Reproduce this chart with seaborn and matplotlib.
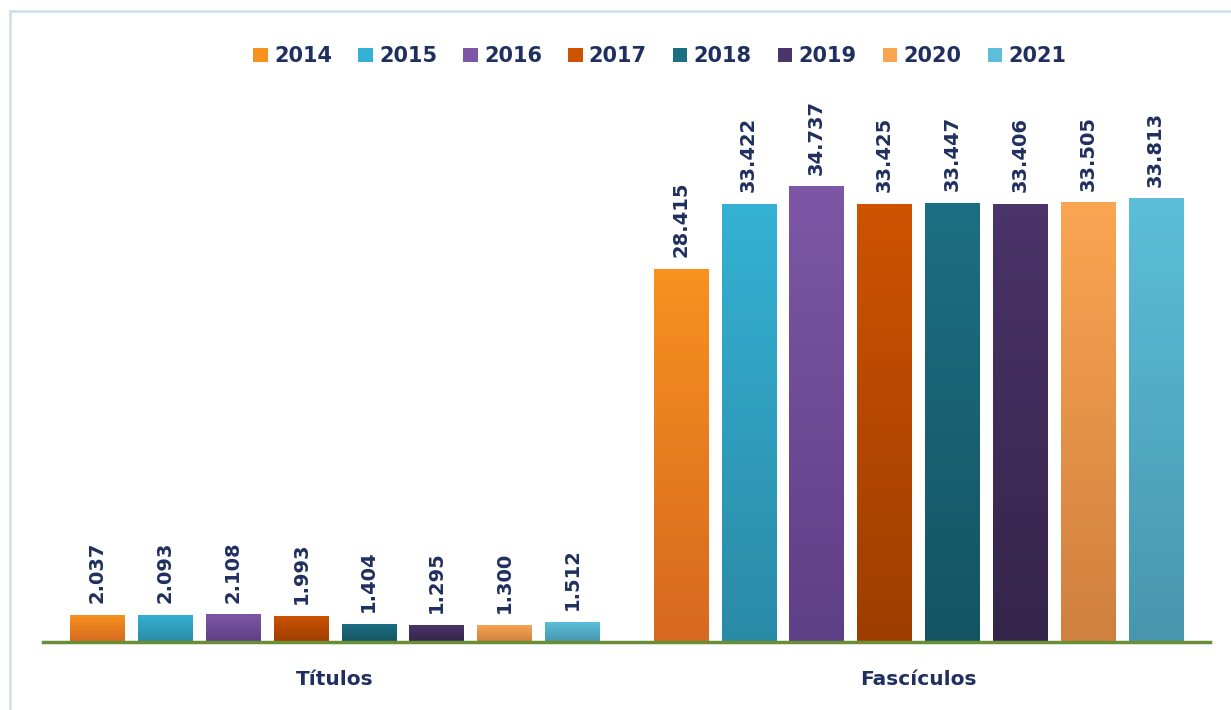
import numpy as np
import pandas as pd
import matplotlib.pyplot as plt
import matplotlib.colors as mcolors
from matplotlib.patches import Rectangle
import seaborn as sns

categories = ["Títulos", "Fascículos"]
years = ["2014", "2015", "2016", "2017", "2018", "2019", "2020", "2021"]
titulos = [2037, 2093, 2108, 1993, 1404, 1295, 1300, 1512]
fasciculos = [28415, 33422, 34737, 33425, 33447, 33406, 33505, 33813]

top_colors = ["#F7911F", "#35B1D4", "#7D57A5", "#CD5300", "#1C6F83", "#4A3468", "#FAA552", "#5CBED9"]
bottom_colors = ["#D6691F", "#2A8BA6", "#5F3F86", "#9E3D00", "#145462", "#35244A", "#D0803F", "#4896AE"]

NAVY = "#1F2F5F"


def fmt_pt(v):
    return f"{v:,}".replace(",", ".")


def build_df():
    rows = []
    for cat, vals in zip(categories, [titulos, fasciculos]):
        for year, v in zip(years, vals):
            rows.append({"categoria": cat, "ano": year, "valor": v})
    return pd.DataFrame(rows)


def main():
    df = build_df()
    sns.set_theme(style="white")
    plt.rcParams["font.family"] = ["DejaVu Sans"]

    fig = plt.figure(figsize=(12.31, 7.10), dpi=100)
    ax = fig.add_axes([43 / 1231, 68 / 710, (1210 - 43) / 1231, (642 - 95) / 710])

    sns.barplot(data=df, x="categoria", y="valor", hue="ano", order=categories,
                hue_order=years, palette=top_colors, width=0.93, gap=0.2,
                ax=ax, legend=False, errorbar=None)

    # vertical gradient on each bar, clipped to the bar shape
    for i, cont in enumerate(ax.containers):
        cmap = mcolors.LinearSegmentedColormap.from_list(
            f"g{i}", [bottom_colors[i], top_colors[i]])
        for bar, val in zip(cont, cont.datavalues):
            x0, w, h = bar.get_x(), bar.get_width(), bar.get_height()
            grad = np.linspace(0, 1, 64).reshape(-1, 1)
            im = ax.imshow(grad, extent=[x0, x0 + w, 0, h], origin="lower",
                           cmap=cmap, aspect="auto", zorder=bar.get_zorder())
            im.set_clip_path(bar)
            bar.set_edgecolor("none")
            ax.text(x0 + w / 2, h + 900, fmt_pt(int(val)), rotation=90,
                    ha="center", va="bottom", fontsize=14, fontweight="bold",
                    color=NAVY)

    ax.set_xlim(-0.5, 1.5)
    ax.set_ylim(0, 41700)

    for s in ["top", "right", "left"]:
        ax.spines[s].set_visible(False)
    ax.spines["bottom"].set_color("#6A8E35")
    ax.spines["bottom"].set_linewidth(2.5)
    ax.set_yticks([])
    ax.set_xlabel("")
    ax.set_ylabel("")
    ax.tick_params(axis="x", length=0, pad=20)
    for lbl in ax.get_xticklabels():
        lbl.set_fontsize(14.5)
        lbl.set_fontweight("bold")
        lbl.set_color(NAVY)

    handles = [Rectangle((0, 0), 1, 1, facecolor=c, edgecolor="none") for c in top_colors]
    fig.legend(handles, years, loc="center", bbox_to_anchor=(0.536, 0.921),
               ncol=8, frameon=False, handlelength=0.7,
               handleheight=0.7, handletextpad=0.3, columnspacing=1.25,
               prop={"weight": "bold", "size": 15}, labelcolor=NAVY)

    # light border around the chart area
    fig.patches.append(Rectangle((10 / 1231, -0.01), 1.02, 1 - 11 / 710 + 0.01,
                                 transform=fig.transFigure, fill=False,
                                 edgecolor="#D3DFEE", linewidth=2))

    fig.savefig("out.png", dpi=100)
    plt.close(fig)


if __name__ == "__main__":
    main()
